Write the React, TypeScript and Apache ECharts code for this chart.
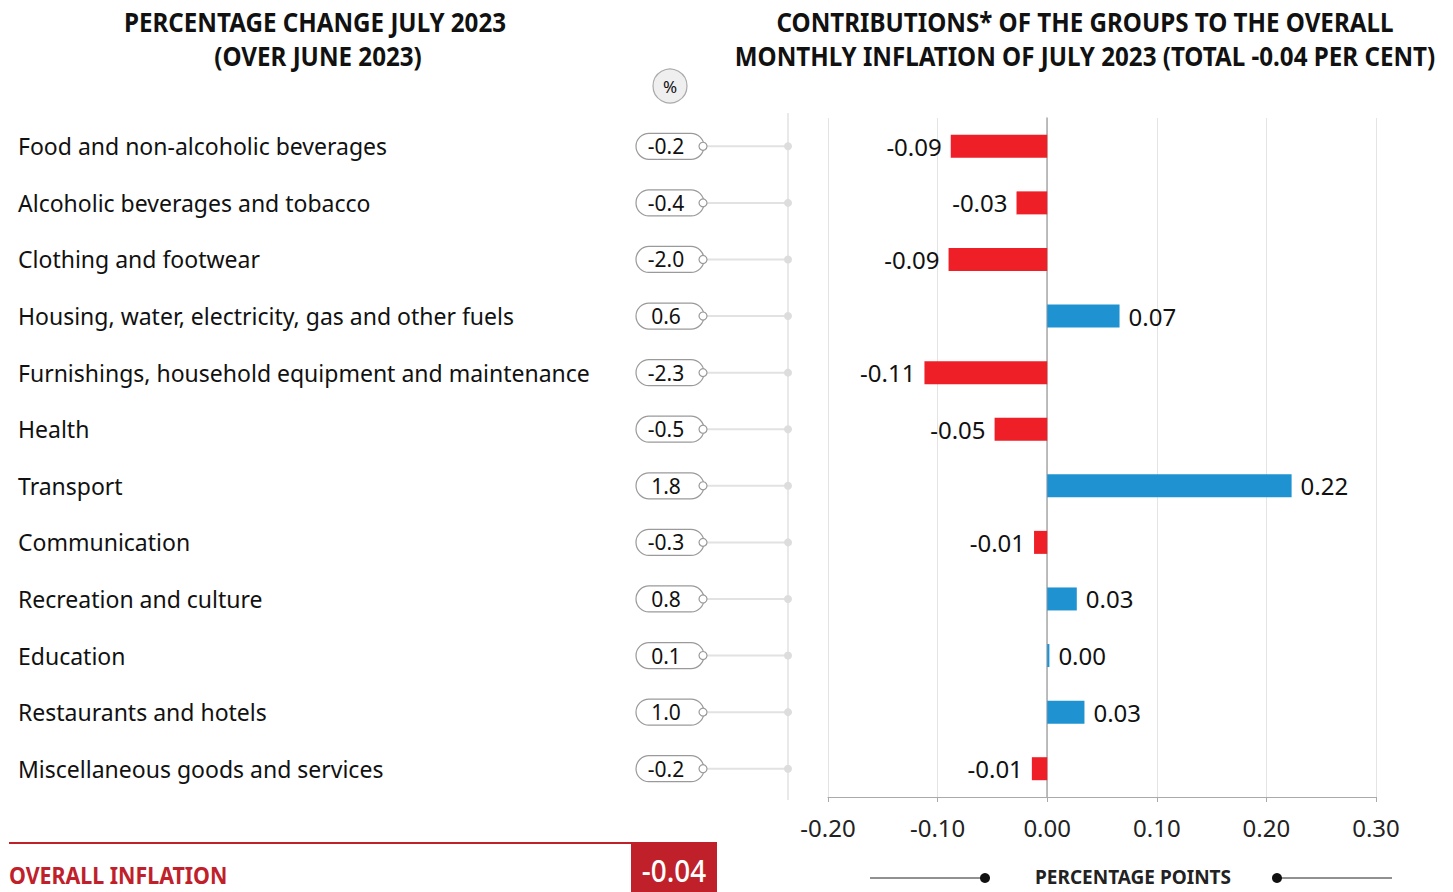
import React, { useEffect, useRef } from "react";
import * as echarts from "echarts";

const categories = [
  "Food and non-alcoholic beverages",
  "Alcoholic beverages and tobacco",
  "Clothing and footwear",
  "Housing, water, electricity, gas and other fuels",
  "Furnishings, household equipment and maintenance",
  "Health",
  "Transport",
  "Communication",
  "Recreation and culture",
  "Education",
  "Restaurants and hotels",
  "Miscellaneous goods and services",
];
const percentChange = [-0.2, -0.4, -2.0, 0.6, -2.3, -0.5, 1.8, -0.3, 0.8, 0.1, 1.0, -0.2];
const contributions = [-0.088, -0.028, -0.09, 0.066, -0.112, -0.048, 0.223, -0.012, 0.027, 0.002, 0.034, -0.014];
const xMin = -0.2;
const xMax = 0.3;
const xInterval = 0.1;
const overallInflation = -0.04;

const RED = "#ee1f26";
const BLUE = "#1f93d2";
const DARKRED = "#c0202a";
const COND = "'Noto Sans', 'Open Sans', sans-serif";
const BODY = "'Noto Sans', 'Open Sans', sans-serif";

function condText(x: number, y: number, text: string, opts: any) {
  const { scaleX = 0.895, align = "center", ...style } = opts;
  return {
    type: "text",
    x,
    y,
    scaleX,
    style: {
      x: 0,
      y: 0,
      text,
      textAlign: align,
      textVerticalAlign: "middle",
      fontFamily: COND,
      ...style,
    },
  };
}

export default function App() {
  const ref = useRef<HTMLDivElement>(null);
  useEffect(() => {
    if (!ref.current) return;
    const chart = echarts.init(ref.current, undefined, { renderer: "svg" });
    const option: any = {
      animation: false,
      backgroundColor: "#ffffff",
      grid: [
        { left: 828, right: 1453 - 1376, top: 118, bottom: 892 - 797 },
        { left: 18, right: 1453 - 788, top: 118, bottom: 892 - 797 },
      ],
      xAxis: [
        {
          gridIndex: 0,
          type: "value",
          min: xMin,
          max: xMax,
          interval: xInterval,
          axisLine: { show: true, onZero: false, lineStyle: { color: "#aaaaaa" } },
          axisTick: { show: true, length: 5, lineStyle: { color: "#aaaaaa" } },
          axisLabel: {
            fontSize: 24,
            color: "#222",
            margin: 18,
            fontFamily: BODY,
            formatter: (v: number) => v.toFixed(2),
          },
          splitLine: { show: true, lineStyle: { color: "#e4e4e4", width: 1 } },
        },
        {
          gridIndex: 1,
          type: "value",
          min: 0,
          max: 1,
          show: false,
        },
      ],
      yAxis: [
        {
          gridIndex: 0,
          type: "category",
          data: categories,
          inverse: true,
          axisLine: { show: true, onZero: true, lineStyle: { color: "#aaaaaa", width: 1.5 } },
          axisTick: { show: false },
          axisLabel: { show: false },
          splitLine: { show: false },
        },
        {
          gridIndex: 1,
          type: "category",
          data: categories,
          inverse: true,
          axisLine: { show: false },
          axisTick: { show: false },
          axisLabel: {
            inside: true,
            margin: 0,
            fontSize: 23,
            color: "#111",
            fontFamily: BODY,
          },
        },
      ],
      series: [
        {
          type: "bar",
          xAxisIndex: 0,
          yAxisIndex: 0,
          barWidth: 23,
          data: contributions.map((v) => ({
            value: v,
            itemStyle: { color: v < 0 ? RED : BLUE },
            label: {
              show: true,
              position: v < 0 ? "left" : "right",
              distance: 9,
              fontSize: 24,
              color: "#111",
              fontFamily: BODY,
              formatter: () => v.toFixed(2),
            },
          })),
        },
        {
          type: "custom",
          xAxisIndex: 1,
          yAxisIndex: 1,
          data: percentChange.map((v, i) => [v, i]),
          encode: { x: 0, y: 1 },
          renderItem: (params: any, api: any) => {
            const idx = api.value(1);
            const val = api.value(0);
            const y = api.coord([0, idx])[1];
            const endX = params.coordSys.x + params.coordSys.width;
            const pillL = endX - 152;
            const pillW = 68;
            const pillH = 26;
            return {
              type: "group",
              children: [
                {
                  type: "line",
                  shape: { x1: pillL + pillW + 3, y1: y, x2: endX, y2: y },
                  style: { stroke: "#e2e2e2", lineWidth: 2 },
                },
                {
                  type: "rect",
                  shape: { x: pillL, y: y - pillH / 2, width: pillW, height: pillH, r: 13 },
                  style: { fill: "#ffffff", stroke: "#9a9a9a", lineWidth: 1.2 },
                },
                {
                  type: "circle",
                  shape: { cx: pillL + pillW - 1, cy: y, r: 4 },
                  style: { fill: "#ffffff", stroke: "#9a9a9a", lineWidth: 1.2 },
                },
                {
                  type: "circle",
                  shape: { cx: endX, cy: y, r: 4 },
                  style: { fill: "#dddddd" },
                },
                {
                  type: "text",
                  style: {
                    x: pillL + 30,
                    y: y,
                    text: val.toFixed(1),
                    textAlign: "center",
                    textVerticalAlign: "middle",
                    fontSize: 21,
                    fontFamily: BODY,
                    fill: "#111",
                  },
                },
              ],
            };
          },
        },
      ],
      graphic: [
        {
          type: "line",
          shape: { x1: 788, y1: 113, x2: 788, y2: 800 },
          style: { stroke: "#e2e2e2", lineWidth: 1.5 },
          z: -1,
        },
        condText(315, 22, "PERCENTAGE CHANGE JULY 2023", { fontSize: 27, fontWeight: "bold", fill: "#111" }),
        condText(318, 56, "(OVER JUNE 2023)", { fontSize: 27, fontWeight: "bold", fill: "#111" }),
        condText(1085, 22, "CONTRIBUTIONS* OF THE GROUPS TO THE OVERALL", { fontSize: 27, fontWeight: "bold", fill: "#111" }),
        condText(1085, 56, "MONTHLY INFLATION OF JULY 2023 (TOTAL -0.04 PER CENT)", { fontSize: 27, fontWeight: "bold", fill: "#111" }),
        {
          type: "circle",
          shape: { cx: 670, cy: 86, r: 17 },
          style: { fill: "#efefef", stroke: "#aaaaaa", lineWidth: 1.2 },
        },
        {
          type: "text",
          style: {
            x: 670, y: 86, text: "%", textAlign: "center", textVerticalAlign: "middle",
            fontSize: 17, fontFamily: BODY, fill: "#111",
          },
        },
        {
          type: "line",
          shape: { x1: 9, y1: 843, x2: 717, y2: 843 },
          style: { stroke: DARKRED, lineWidth: 2 },
        },
        {
          type: "rect",
          shape: { x: 631, y: 843, width: 86, height: 49 },
          style: { fill: DARKRED },
        },
        condText(674, 870, overallInflation.toFixed(2), { fontSize: 31, fontWeight: 500, fill: "#ffffff", scaleX: 0.9 }),
        condText(9, 875, "OVERALL INFLATION", { fontSize: 23, fontWeight: "bold", fill: DARKRED, align: "left", scaleX: 0.93 }),
        condText(1133, 877, "PERCENTAGE POINTS", { fontSize: 19, fontWeight: "bold", fill: "#222", scaleX: 1.0 }),
        {
          type: "line",
          shape: { x1: 870, y1: 878, x2: 985, y2: 878 },
          style: { stroke: "#222", lineWidth: 1 },
        },
        {
          type: "circle",
          shape: { cx: 985, cy: 878, r: 5 },
          style: { fill: "#111" },
        },
        {
          type: "line",
          shape: { x1: 1277, y1: 878, x2: 1392, y2: 878 },
          style: { stroke: "#222", lineWidth: 1 },
        },
        {
          type: "circle",
          shape: { cx: 1277, cy: 878, r: 5 },
          style: { fill: "#111" },
        },
      ],
    };
    chart.setOption(option);
    return () => chart.dispose();
  }, []);
  return (
    <div
      ref={ref}
      style={{ position: "fixed", left: 0, top: 0, width: 1453, height: 892 }}
    />
  );
}
